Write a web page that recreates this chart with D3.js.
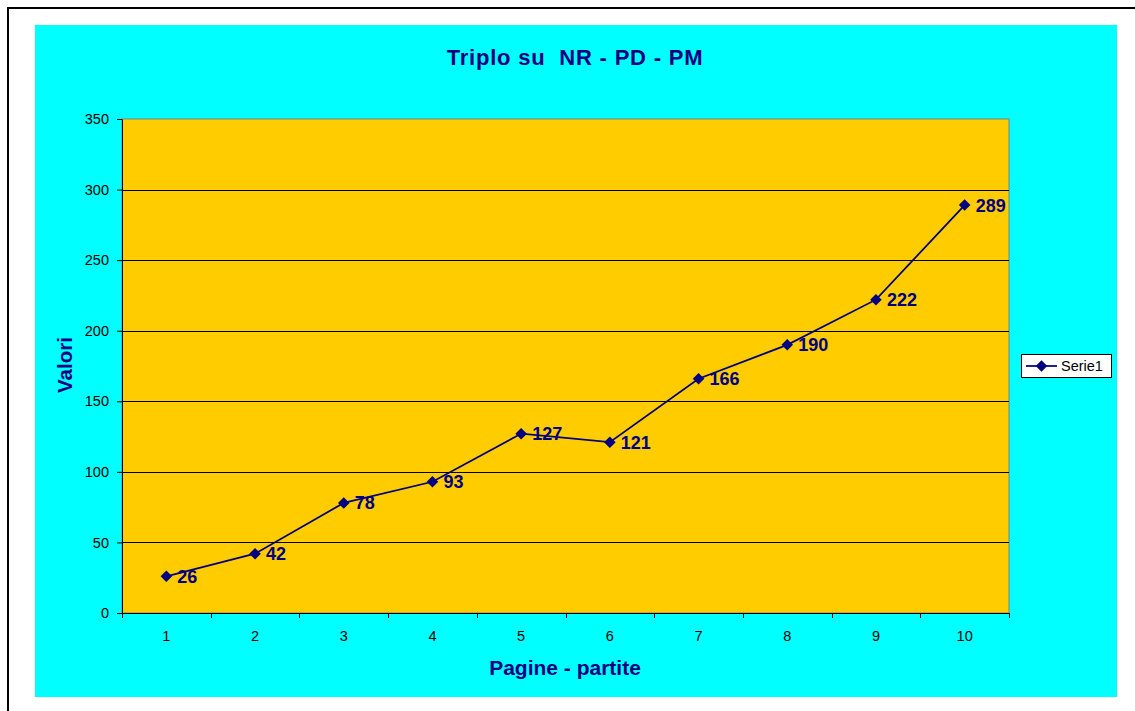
<!DOCTYPE html>
<html>
<head>
<meta charset="utf-8">
<script src="https://cdn.jsdelivr.net/npm/d3@7"></script>
<style>
  body { margin: 0; background: #fff; }
  svg { display: block; font-family: "Liberation Sans", Arial, sans-serif; }
</style>
</head>
<body>
<svg id="chart"></svg>
<script>
// chart data
var categories = ['1', '2', '3', '4', '5', '6', '7', '8', '9', '10'];
var serie1 = [26, 42, 78, 93, 127, 121, 166, 190, 222, 289];
var yTicks = [0, 50, 100, 150, 200, 250, 300, 350];
var seriesName = 'Serie1';

var W = 1135, H = 711;
var navy = '#000080';

var svg = d3.select('#chart').attr('width', W).attr('height', H);

// outer frame (runs past the window edge like the original)
svg.append('rect')
    .attr('x', 8).attr('y', 8)
    .attr('width', 1200).attr('height', 800)
    .attr('fill', '#fff')
    .attr('stroke', '#000').attr('stroke-width', 2);

// chart area
svg.append('rect')
    .attr('x', 35).attr('y', 25)
    .attr('width', 1082).attr('height', 672)
    .attr('fill', '#00FFFF');

var margin = { top: 119, left: 122 },
    width = 1009 - 122,
    height = 613 - 119;

var g = svg.append('g')
    .attr('transform', 'translate(' + margin.left + ',' + margin.top + ')');

var x = d3.scaleBand().domain(categories).range([0, width]);
var y = d3.scaleLinear().domain([0, 350]).range([height, 0]);

// plot area
g.append('rect')
    .attr('width', width).attr('height', height)
    .attr('fill', '#FFCC00')
    .attr('stroke', '#808080').attr('stroke-width', 1);

// gridlines
g.append('g')
    .selectAll('line')
    .data(yTicks.filter(function (d) { return d > 0 && d < 350; }))
    .enter().append('line')
    .attr('x1', 0).attr('x2', width)
    .attr('y1', function (d) { return Math.round(y(d)) + 0.5; })
    .attr('y2', function (d) { return Math.round(y(d)) + 0.5; })
    .attr('stroke', '#000').attr('stroke-width', 1);

// y axis
var yAxis = g.append('g')
    .call(d3.axisLeft(y).tickValues(yTicks).tickSize(5).tickSizeOuter(0).tickPadding(8));
yAxis.select('.domain').attr('stroke', '#000');
yAxis.selectAll('text').attr('font-size', 14.5).attr('fill', '#000')
    .attr('font-family', '"Liberation Sans", Arial, sans-serif');

// x axis: ticks between the categories
var xAxis = g.append('g')
    .attr('transform', 'translate(0,' + height + ')');
xAxis.append('line')
    .attr('x1', 0).attr('x2', width)
    .attr('y1', 0.5).attr('y2', 0.5)
    .attr('stroke', '#000');
var bounds = d3.range(categories.length + 1).map(function (i) { return i * x.step(); });
xAxis.selectAll('.tick')
    .data(bounds)
    .enter().append('line')
    .attr('x1', function (d) { return Math.round(d) + 0.5; })
    .attr('x2', function (d) { return Math.round(d) + 0.5; })
    .attr('y1', 0).attr('y2', 5)
    .attr('stroke', '#000');
xAxis.selectAll('.lbl')
    .data(categories)
    .enter().append('text')
    .attr('x', function (d) { return x(d) + x.bandwidth() / 2; })
    .attr('y', 28)
    .attr('text-anchor', 'middle')
    .attr('font-size', 14.5)
    .attr('fill', '#000')
    .text(function (d) { return d; });

// line
var points = categories.map(function (c, i) { return { cat: c, val: serie1[i] }; });
var valueline = d3.line()
    .x(function (d) { return x(d.cat) + x.bandwidth() / 2; })
    .y(function (d) { return y(d.val); });

g.append('path')
    .datum(points)
    .attr('d', valueline)
    .attr('fill', 'none')
    .attr('stroke', navy)
    .attr('stroke-width', 1.75);

var diamond = d3.symbol().type(d3.symbolDiamond2).size(85);
g.selectAll('.dot')
    .data(points)
    .enter().append('path')
    .attr('class', 'dot')
    .attr('d', diamond)
    .attr('transform', function (d) {
        return 'translate(' + (x(d.cat) + x.bandwidth() / 2) + ',' + y(d.val) + ')';
    })
    .attr('fill', navy);

// data labels
g.selectAll('.val')
    .data(points)
    .enter().append('text')
    .attr('x', function (d) { return x(d.cat) + x.bandwidth() / 2 + 11; })
    .attr('y', function (d) { return y(d.val) + 6.5; })
    .attr('font-size', 18)
    .attr('font-weight', 'bold')
    .attr('fill', navy)
    .text(function (d) { return d.val; });

// titles
svg.append('text')
    .attr('x', 575).attr('y', 65)
    .attr('text-anchor', 'middle')
    .attr('font-size', 22).attr('font-weight', 'bold')
    .attr('letter-spacing', 0.8)
    .attr('fill', navy)
    .attr('xml:space', 'preserve')
    .style('white-space', 'pre')
    .text('Triplo su  NR - PD - PM');

svg.append('text')
    .attr('x', 565).attr('y', 675)
    .attr('text-anchor', 'middle')
    .attr('font-size', 21).attr('font-weight', 'bold')
    .attr('fill', navy)
    .text('Pagine - partite');

svg.append('text')
    .attr('transform', 'translate(72,365) rotate(-90)')
    .attr('text-anchor', 'middle')
    .attr('font-size', 20.5).attr('font-weight', 'bold')
    .attr('fill', navy)
    .text('Valori');

// legend
var leg = svg.append('g').attr('transform', 'translate(1021,354)');
leg.append('rect')
    .attr('x', 0.5).attr('y', 0.5)
    .attr('width', 90).attr('height', 23)
    .attr('fill', '#fff').attr('stroke', '#000');
leg.append('line')
    .attr('x1', 5).attr('x2', 36)
    .attr('y1', 12).attr('y2', 12)
    .attr('stroke', navy).attr('stroke-width', 1.75);
leg.append('path')
    .attr('d', diamond)
    .attr('transform', 'translate(20.5,12)')
    .attr('fill', navy);
leg.append('text')
    .attr('x', 40).attr('y', 17)
    .attr('font-size', 14.5)
    .attr('fill', '#000')
    .text(seriesName);
</script>
</body>
</html>
